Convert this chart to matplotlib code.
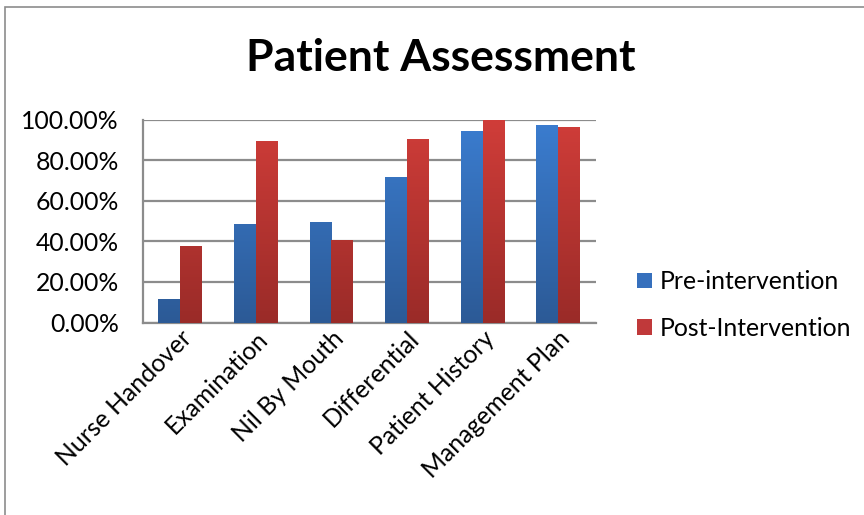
import numpy as np
import matplotlib
matplotlib.use("Agg")
import matplotlib.pyplot as plt
from matplotlib.patches import Rectangle, Patch
from matplotlib.colors import LinearSegmentedColormap

categories = ["Nurse Handover", "Examination", "Nil By Mouth", "Differential",
              "Patient History", "Management Plan"]
pre_values = [11.5, 48.4, 49.4, 71.6, 94.2, 97.2]
post_values = [37.6, 89.3, 40.5, 90.3, 100.0, 96.2]
series_names = ["Pre-intervention", "Post-Intervention"]
y_ticks = [0, 20, 40, 60, 80, 100]

plt.rcParams['font.family'] = ['Lato', 'DejaVu Sans']

fig = plt.figure(figsize=(8.64, 5.15), dpi=100)
ax = fig.add_axes([142.5/864, 1-322.5/515, (596-142.5)/864, (322.5-119.5)/515])

# outer chart border
fig.patches.append(Rectangle((5/864, -0.1), 1.2, (515-7)/515 + 0.1,
                             transform=fig.transFigure, fill=False,
                             edgecolor='#8c8c8c', linewidth=1.2, zorder=0))

x = np.arange(len(categories))
w = 0.29
blue_cmap = LinearSegmentedColormap.from_list('b', ['#2c5a96', '#3b7dd0'])
red_cmap = LinearSegmentedColormap.from_list('r', ['#9a2b28', '#d03d39'])

grad = np.linspace(0, 1, 256).reshape(-1, 1)
for vals, offs, cmap in [(pre_values, -w/2, blue_cmap),
                         (post_values, w/2, red_cmap)]:
    bars = ax.bar(x + offs, vals, width=w, color='none', zorder=3)
    for b in bars:
        x0 = b.get_x()
        im = ax.imshow(grad, cmap=cmap, origin='lower', aspect='auto',
                       extent=[x0, x0 + b.get_width(), 0, 100], zorder=3)
        im.set_clip_path(b)

fs = 17.8
ax.set_xlim(-0.5, len(categories) - 0.5)
ax.set_ylim(0, 100)
ax.set_yticks(y_ticks)
ax.set_yticklabels([f"{t:.2f}%" for t in y_ticks], fontsize=fs)
ax.tick_params(axis='y', length=0, pad=17)
ax.tick_params(axis='x', length=0, pad=3)
ax.set_xticks(x)
ax.set_xticklabels(categories, rotation=45, ha='right', rotation_mode='anchor',
                   fontsize=fs)
ax.yaxis.grid(True, color='#8c8c8c', linewidth=1.6, zorder=1)
ax.set_axisbelow(True)
for s in ['top', 'right']:
    ax.spines[s].set_visible(False)
for s in ['left', 'bottom']:
    ax.spines[s].set_color('#8c8c8c')
    ax.spines[s].set_linewidth(1.6)

fig.text(441/864, 1-58/515, "Patient Assessment", ha='center', va='center',
         fontsize=32, fontweight='bold')

handles = [Patch(facecolor='#3670bd'), Patch(facecolor='#c0393a')]
fig.legend(handles, series_names, loc='center left',
           bbox_to_anchor=(615/864, 1-305/515), frameon=False, fontsize=fs,
           handlelength=0.6, handleheight=0.6, handletextpad=0.3,
           labelspacing=0.95)

fig.savefig("out.png", dpi=100)
